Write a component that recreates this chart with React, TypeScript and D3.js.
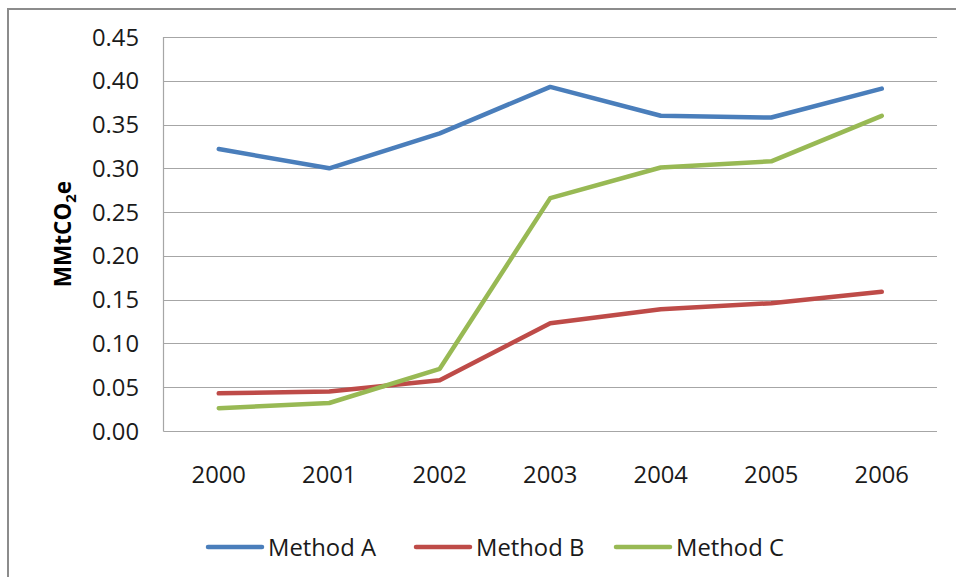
import React, { useEffect, useRef } from 'react';
import * as d3 from 'd3';

const years = ['2000', '2001', '2002', '2003', '2004', '2005', '2006'];
const methodA = [0.322, 0.300, 0.340, 0.393, 0.360, 0.358, 0.391];
const methodB = [0.043, 0.045, 0.058, 0.123, 0.139, 0.146, 0.159];
const methodC = [0.026, 0.032, 0.071, 0.266, 0.301, 0.308, 0.360];
const seriesNames = ['Method A', 'Method B', 'Method C'];
const seriesColors = ['#4A7EBB', '#BE4B48', '#98B954'];
const yTicks = [0, 0.05, 0.1, 0.15, 0.2, 0.25, 0.3, 0.35, 0.4, 0.45];

const W = 956;
const H = 577;
const FONT = '"Open Sans", sans-serif';

export default function App() {
  const ref = useRef<SVGSVGElement>(null);

  useEffect(() => {
    if (!ref.current) return;
    const svg = d3.select(ref.current);
    svg.selectAll('*').remove();

    const left = 163.5, right = 937, top = 37, bottom = 431;

    // outer frame
    svg.append('rect')
      .attr('x', 8).attr('y', 9)
      .attr('width', W + 20).attr('height', H + 20)
      .attr('fill', '#fff')
      .attr('stroke', '#8c8c8c')
      .attr('stroke-width', 2);

    const x = d3.scaleBand<string>().domain(years).range([left, right]);
    const y = d3.scaleLinear().domain([0, 0.45]).range([bottom, top]);

    // gridlines
    svg.append('g')
      .selectAll('line')
      .data(yTicks)
      .enter()
      .append('line')
      .attr('x1', left).attr('x2', right)
      .attr('y1', (d) => Math.round(y(d)) + 0.5)
      .attr('y2', (d) => Math.round(y(d)) + 0.5)
      .attr('stroke', '#a6a6a6')
      .attr('stroke-width', 1.2);

    // left axis line
    svg.append('line')
      .attr('x1', left).attr('x2', left)
      .attr('y1', top).attr('y2', bottom + 0.5)
      .attr('stroke', '#a6a6a6')
      .attr('stroke-width', 1.2);

    // y tick labels
    svg.append('g')
      .selectAll('text')
      .data(yTicks)
      .enter()
      .append('text')
      .attr('x', 139)
      .attr('y', (d) => y(d) + 8.5)
      .attr('text-anchor', 'end')
      .style('font-family', FONT)
      .style('font-size', '23.8px')
      .style('fill', '#1a1a1a')
      .text((d) => d3.format('.2f')(d));

    // x tick labels
    svg.append('g')
      .selectAll('text')
      .data(years)
      .enter()
      .append('text')
      .attr('x', (d) => (x(d) as number) + x.bandwidth() / 2)
      .attr('y', 483)
      .attr('text-anchor', 'middle')
      .style('font-family', FONT)
      .style('font-size', '23.8px')
      .style('fill', '#1a1a1a')
      .text((d) => d);

    // y title
    const title = svg.append('text')
      .attr('transform', 'translate(71,234) rotate(-90)')
      .attr('text-anchor', 'middle')
      .style('font-family', FONT)
      .style('font-size', '22.5px')
      .style('font-weight', 'bold')
      .style('fill', '#000');
    title.append('tspan').text('MMtCO');
    title.append('tspan').attr('dy', 5).style('font-size', '15px').text('2');
    title.append('tspan').attr('dy', -5).text('e');

    const line = d3.line<number>()
      .x((_, i) => (x(years[i]) as number) + x.bandwidth() / 2)
      .y((d) => y(d));

    const allSeries = [methodA, methodB, methodC];
    svg.append('g')
      .selectAll('path')
      .data(allSeries)
      .enter()
      .append('path')
      .attr('d', (d) => line(d))
      .attr('fill', 'none')
      .attr('stroke', (_, i) => seriesColors[i])
      .attr('stroke-width', 4.5)
      .attr('stroke-linejoin', 'round')
      .attr('stroke-linecap', 'round');

    // legend
    const legendX = [208, 416, 616];
    const legend = svg.append('g')
      .selectAll('g')
      .data(seriesNames)
      .enter()
      .append('g')
      .attr('transform', (_, i) => `translate(${legendX[i]},547)`);
    legend.append('line')
      .attr('x1', 0).attr('x2', 54)
      .attr('stroke', (_, i) => seriesColors[i])
      .attr('stroke-width', 4.5)
      .attr('stroke-linecap', 'round');
    legend.append('text')
      .attr('x', 60)
      .attr('y', 8.5)
      .style('font-family', FONT)
      .style('font-size', '23.8px')
      .style('fill', '#1a1a1a')
      .text((d) => d);
  }, []);

  return (
    <svg
      ref={ref}
      width={W}
      height={H}
      style={{ position: 'absolute', left: 0, top: 0, background: '#fff' }}
    />
  );
}
